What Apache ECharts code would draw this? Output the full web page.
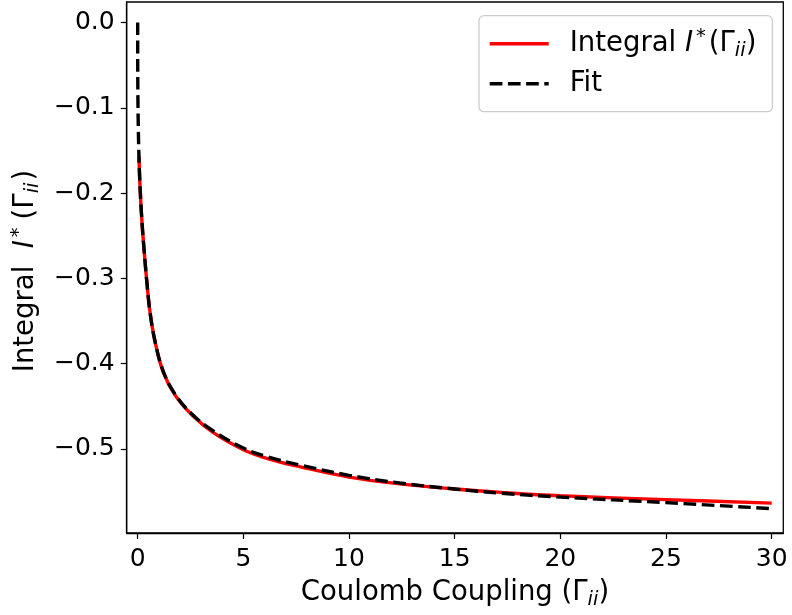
<!DOCTYPE html>
<html>
<head>
<meta charset="utf-8">
<script src="https://cdn.jsdelivr.net/npm/echarts@6/dist/echarts.min.js"></script>
<style>
html,body{margin:0;padding:0;background:#fff;}
#chart{width:792px;height:615px;}
</style>
</head>
<body>
<div id="chart"></div>
<script>
// Coulomb coupling values (x) for the integral curve
const gamma = [0.06, 0.11, 0.19, 0.3, 0.44, 0.58, 0.82, 1.21, 1.77, 2.56, 3.58, 5, 6.1, 7.7, 10, 12.4, 15, 17.2, 20, 25, 30];
// Integral I*(Γii)
const integral = [-0.157, -0.192, -0.229, -0.266, -0.306, -0.339, -0.374, -0.410, -0.437, -0.460, -0.481, -0.501, -0.511, -0.521, -0.533, -0.541, -0.547, -0.551, -0.555, -0.5595, -0.5636];
// Fit curve
const gammaFit = [0, 0.001, 0.01, 0.03, 0.06, 0.11, 0.19, 0.3, 0.44, 0.58, 0.82, 1.21, 1.77, 2.56, 3.58, 5, 6.1, 7.7, 10, 12.4, 15, 17.2, 20, 25, 30];
const fit = [0, -0.04, -0.087, -0.125, -0.157, -0.192, -0.229, -0.266, -0.306, -0.339, -0.374, -0.409, -0.436, -0.459, -0.479, -0.499, -0.509, -0.519, -0.531, -0.540, -0.547, -0.552, -0.5565, -0.5630, -0.5700];
// Tick labels
const xTicks = [0, 5, 10, 15, 20, 25, 30];
const yTicks = [0, -0.1, -0.2, -0.3, -0.4, -0.5];
const seriesNames = ['Integral I*(Γii)', 'Fit'];

const FONT = 'DejaVu Sans';
const chart = echarts.init(document.getElementById('chart'), null, {renderer: 'canvas'});

function richSet(supPadRight, subPadRight) {
  return {
    n: {fontFamily: FONT, fontSize: 27.5, color: '#000', verticalAlign: 'middle', lineHeight: 34},
    it: {fontFamily: FONT, fontSize: 27.5, fontStyle: 'italic', color: '#000', verticalAlign: 'middle', lineHeight: 34},
    sup: {fontFamily: FONT, fontSize: 19.5, color: '#000', verticalAlign: 'top', lineHeight: 34, padding: [0, supPadRight, 0, 3]},
    sub: {fontFamily: FONT, fontSize: 19.5, fontStyle: 'italic', color: '#000', verticalAlign: 'bottom', lineHeight: 30, padding: [0, subPadRight, 0, 0]}
  };
}

chart.setOption({
  animation: false,
  backgroundColor: '#fff',
  grid: {
    left: 126.7, right: 8.7, top: 2, bottom: 79.3,
    show: true, borderColor: '#000', borderWidth: 1.3, backgroundColor: 'transparent'
  },
  legend: {
    left: 479, top: 15.7,
    orient: 'vertical',
    padding: [11, 16, 14, 9],
    itemGap: 9,
    itemWidth: 59, itemHeight: 14,
    borderColor: '#cccccc', borderWidth: 1.3, borderRadius: 5,
    backgroundColor: 'rgba(255,255,255,0.8)',
    data: seriesNames,
    itemStyle: {color: 'rgba(0,0,0,0)', borderColor: 'rgba(0,0,0,0)', borderWidth: 0, opacity: 0},
    lineStyle: {width: 3.4},
    formatter: function (name) {
      if (name === seriesNames[0]) return '{n|Integral }{it|I}{sup|*}{n|(Γ}{sub|ii}{n|)}';
      return '{n|' + name + '}';
    },
    textStyle: {
      fontFamily: FONT, fontSize: 27.5, color: '#000', padding: [0, 0, 0, 16],
      rich: richSet(3, 0)
    }
  },
  xAxis: {
    type: 'value', min: -0.52, max: 30.55,
    splitLine: {show: false},
    axisLine: {show: true, onZero: false, lineStyle: {color: '#000', width: 1.3}},
    axisTick: {show: true, length: 6, customValues: xTicks, lineStyle: {color: '#000', width: 1.2}},
    axisLabel: {customValues: xTicks, fontFamily: FONT, fontSize: 25, color: '#000', margin: 14},
    name: '{n|Coulomb Coupling (Γ}{sub|ii}{n|)}',
    nameLocation: 'middle', nameGap: 43,
    nameTextStyle: {fontFamily: FONT, fontSize: 27.5, color: '#000', rich: richSet(3, 0)}
  },
  yAxis: {
    type: 'value', min: -0.5986, max: 0.024,
    splitLine: {show: false},
    axisLine: {show: true, onZero: false, lineStyle: {color: '#000', width: 1.3}},
    axisTick: {show: true, length: 6, customValues: yTicks, lineStyle: {color: '#000', width: 1.2}},
    axisLabel: {
      customValues: yTicks, fontFamily: FONT, fontSize: 25, color: '#000', margin: 12,
      formatter: function (v) { return (v < -1e-9 ? '\u2212' : '') + Math.abs(v).toFixed(1); }
    },
    name: '{n|Integral  }{it|I}{sup|*}{n|(Γ}{sub|ii}{n|)}',
    nameLocation: 'middle', nameGap: 80, nameRotate: 90,
    nameTextStyle: {fontFamily: FONT, fontSize: 27.5, color: '#000', padding: [0, 7, 0, 0], rich: richSet(8, 2)}
  },
  series: [
    {
      name: seriesNames[0], type: 'line',
      data: gamma.map((g, i) => [g, integral[i]]),
      symbol: 'none', smooth: 0.4,
      lineStyle: {color: '#ff0000', width: 3.4},
      itemStyle: {color: '#ff0000'},
      z: 2
    },
    {
      name: seriesNames[1], type: 'line',
      data: gammaFit.map((g, i) => [g, fit[i]]),
      symbol: 'none', smooth: 0.4,
      lineStyle: {color: '#000000', width: 3.4, type: [12.7, 5.5]},
      itemStyle: {color: '#000000'},
      z: 3
    }
  ]
});
</script>
</body>
</html>
